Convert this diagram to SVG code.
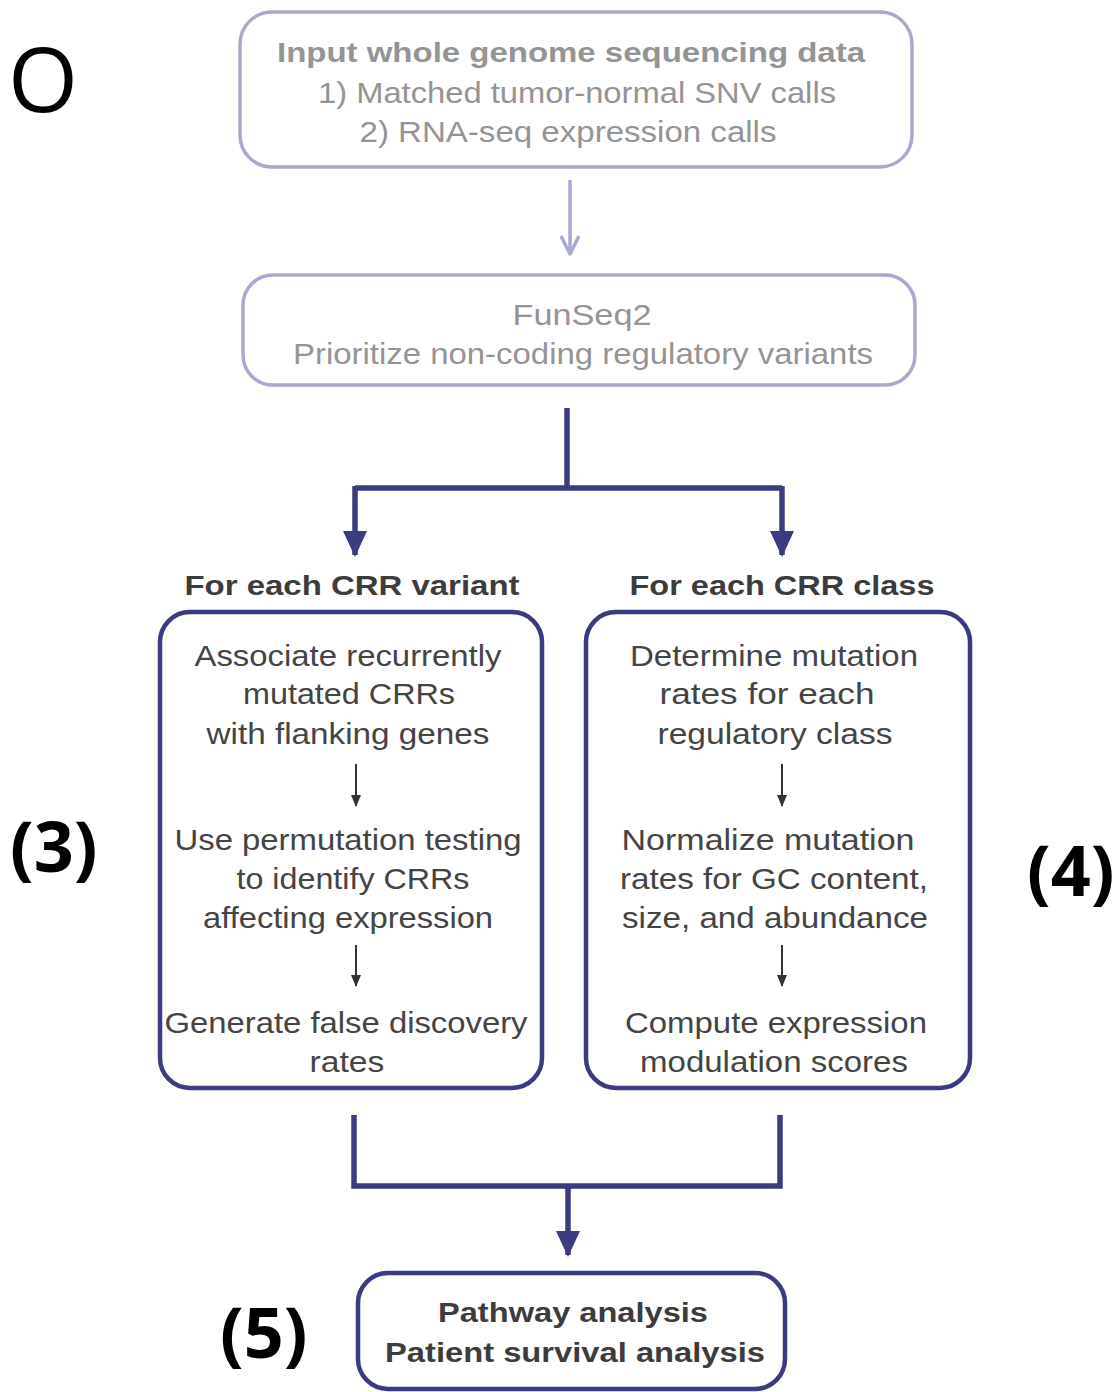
<svg xmlns="http://www.w3.org/2000/svg" width="1117" height="1392" viewBox="0 0 1117 1392">
<defs>
<style>
.lt{fill:none;stroke:#a9a9cf;stroke-width:3.5}
.dk{fill:none;stroke:#3b3b82;stroke-width:4.5}
.con{fill:none;stroke:#3b3b82;stroke-width:5.5}
.t{font-family:"Liberation Sans",Arial,sans-serif;text-anchor:middle}
.g{fill:#949494;font-size:30px}
.gb{fill:#949494;font-size:28px;font-weight:bold}
.b{fill:#444;font-size:29px}
.hb{fill:#3c3c3c;font-size:28px;font-weight:bold}
.tag{font-family:"Open Sans","Liberation Sans",sans-serif;fill:#000}
.sm{fill:none;stroke:#333;stroke-width:2}
</style>
<marker id="al" markerWidth="20" markerHeight="22" refX="10" refY="20" markerUnits="userSpaceOnUse" viewBox="0 0 20 22"><path d="M1,2 L10,20 L19,2" fill="none" stroke="#a9a9cf" stroke-width="3.5" stroke-linejoin="round"/></marker>
<marker id="ad" markerWidth="24" markerHeight="26" refX="12" refY="24" markerUnits="userSpaceOnUse" viewBox="0 0 24 26"><path d="M0,0 L24,0 L12,26 Z" fill="#3b3b82"/></marker>
<marker id="as" markerWidth="10" markerHeight="12" refX="5" refY="11" markerUnits="userSpaceOnUse" viewBox="0 0 10 12"><path d="M0,0 L10,0 L5,12 Z" fill="#333"/></marker>
</defs>
<rect width="1117" height="1392" fill="#fff"/>
<text class="tag" x="8" y="112" font-size="90">O</text>
<text class="tag" x="10" y="872" font-size="70" font-weight="bold">(3)</text>
<text class="tag" x="1027" y="896" font-size="70" font-weight="bold">(4)</text>
<text class="tag" x="220" y="1358" font-size="70" font-weight="bold">(5)</text>

<g id="connectors">
<path class="lt" d="M570,180 V254" marker-end="url(#al)"/>
<path class="con" d="M567,408 V488 M355,488 H782"/>
<path class="con" d="M355,486 V555" marker-end="url(#ad)"/>
<path class="con" d="M782,486 V555" marker-end="url(#ad)"/>
<path class="con" d="M354,1115 V1186 H780 V1115"/>
<path class="con" d="M568,1186 V1255" marker-end="url(#ad)"/>
</g>

<g id="input">
<rect class="lt" x="240" y="12" width="672" height="155" rx="32"/>
<text class="t gb" x="571" y="62" textLength="588" lengthAdjust="spacingAndGlyphs">Input whole genome sequencing data</text>
<text class="t g" x="577" y="103" textLength="518" lengthAdjust="spacingAndGlyphs">1) Matched tumor-normal SNV calls</text>
<text class="t g" x="568" y="142" textLength="417" lengthAdjust="spacingAndGlyphs">2) RNA-seq expression calls</text>
</g>

<g id="funseq2">
<rect class="lt" x="243" y="275" width="672" height="110" rx="30"/>
<text class="t g" x="582" y="325" textLength="139" lengthAdjust="spacingAndGlyphs">FunSeq2</text>
<text class="t g" x="583" y="364" textLength="580" lengthAdjust="spacingAndGlyphs">Prioritize non-coding regulatory variants</text>
</g>

<g id="crr-variant">
<text class="t hb" x="352" y="595" textLength="335" lengthAdjust="spacingAndGlyphs">For each CRR variant</text>
<rect class="dk" x="160" y="612" width="382" height="476" rx="30"/>
<text class="t b" x="348" y="666" textLength="307" lengthAdjust="spacingAndGlyphs">Associate recurrently</text>
<text class="t b" x="349" y="704" textLength="212" lengthAdjust="spacingAndGlyphs">mutated CRRs</text>
<text class="t b" x="348" y="744" textLength="283" lengthAdjust="spacingAndGlyphs">with flanking genes</text>
<path class="sm" d="M356,764 V806" marker-end="url(#as)"/>
<text class="t b" x="348" y="850" textLength="347" lengthAdjust="spacingAndGlyphs">Use permutation testing</text>
<text class="t b" x="353" y="889" textLength="233" lengthAdjust="spacingAndGlyphs">to identify CRRs</text>
<text class="t b" x="348" y="928" textLength="290" lengthAdjust="spacingAndGlyphs">affecting expression</text>
<path class="sm" d="M356,945 V986" marker-end="url(#as)"/>
<text class="t b" x="346" y="1033" textLength="363" lengthAdjust="spacingAndGlyphs">Generate false discovery</text>
<text class="t b" x="347" y="1072" textLength="75" lengthAdjust="spacingAndGlyphs">rates</text>
</g>

<g id="crr-class">
<text class="t hb" x="782" y="595" textLength="305" lengthAdjust="spacingAndGlyphs">For each CRR class</text>
<rect class="dk" x="586" y="612" width="384" height="476" rx="30"/>
<text class="t b" x="774" y="666" textLength="288" lengthAdjust="spacingAndGlyphs">Determine mutation</text>
<text class="t b" x="767" y="704" textLength="215" lengthAdjust="spacingAndGlyphs">rates for each</text>
<text class="t b" x="775" y="744" textLength="235" lengthAdjust="spacingAndGlyphs">regulatory class</text>
<path class="sm" d="M782,764 V806" marker-end="url(#as)"/>
<text class="t b" x="768" y="850" textLength="293" lengthAdjust="spacingAndGlyphs">Normalize mutation</text>
<text class="t b" x="774" y="889" textLength="308" lengthAdjust="spacingAndGlyphs">rates for GC content,</text>
<text class="t b" x="775" y="928" textLength="306" lengthAdjust="spacingAndGlyphs">size, and abundance</text>
<path class="sm" d="M782,945 V986" marker-end="url(#as)"/>
<text class="t b" x="776" y="1033" textLength="302" lengthAdjust="spacingAndGlyphs">Compute expression</text>
<text class="t b" x="774" y="1072" textLength="268" lengthAdjust="spacingAndGlyphs">modulation scores</text>
</g>

<g id="analysis">
<rect class="dk" x="358" y="1273" width="427" height="116" rx="30"/>
<text class="t hb" x="573" y="1322" textLength="270" lengthAdjust="spacingAndGlyphs">Pathway analysis</text>
<text class="t hb" x="575" y="1362" textLength="380" lengthAdjust="spacingAndGlyphs">Patient survival analysis</text>
</g>
</svg>
